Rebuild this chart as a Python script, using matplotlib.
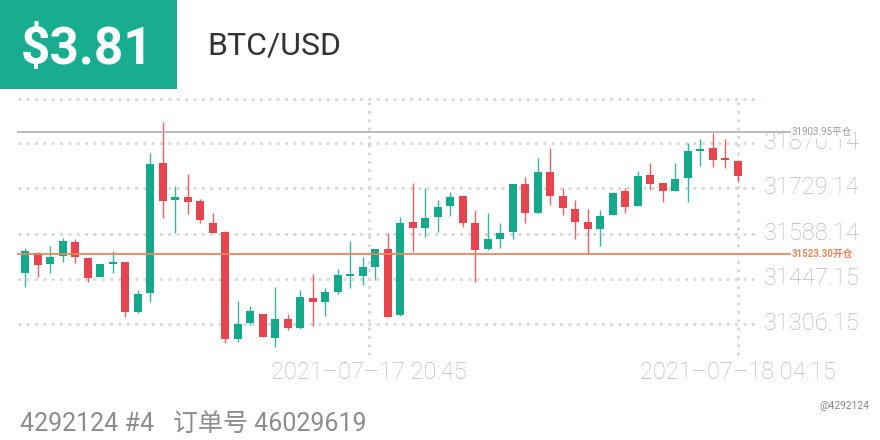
import matplotlib
matplotlib.use("Agg")
import matplotlib.pyplot as plt
from matplotlib.patches import Rectangle
import matplotlib.transforms as mtransforms

# ---------------- data ----------------
opens = [31464, 31527, 31492, 31518, 31563, 31513, 31454, 31493, 31499, 31343,
         31402, 31808, 31693, 31701, 31690, 31622, 31594, 31259, 31308, 31337,
         31264, 31322, 31293, 31388, 31374, 31405, 31457, 31457, 31485, 31539,
         31333, 31625, 31605, 31639, 31675, 31707, 31620, 31539, 31573, 31592,
         31743, 31654, 31782, 31707, 31664, 31625, 31603, 31646, 31722, 31674,
         31771, 31745, 31721, 31761, 31848, 31854, 31823, 31816]
highs = [31544, 31530, 31551, 31576, 31570, 31514, 31493, 31535, 31500, 31412,
         31839, 31938, 31737, 31773, 31695, 31654, 31595, 31379, 31362, 31338,
         31423, 31337, 31412, 31462, 31419, 31477, 31565, 31516, 31540, 31589,
         31641, 31745, 31730, 31693, 31719, 31708, 31662, 31652, 31620, 31744,
         31766, 31825, 31854, 31730, 31693, 31664, 31662, 31719, 31730, 31785,
         31808, 31746, 31808, 31870, 31882, 31901, 31882, 31817]
lows = [31423, 31454, 31464, 31501, 31495, 31438, 31453, 31464, 31329, 31342,
        31376, 31636, 31589, 31649, 31622, 31589, 31248, 31249, 31303, 31266,
        31235, 31289, 31292, 31300, 31331, 31400, 31419, 31428, 31443, 31328,
        31332, 31532, 31579, 31594, 31643, 31610, 31436, 31538, 31544, 31573,
        31620, 31653, 31678, 31646, 31570, 31524, 31550, 31645, 31654, 31673,
        31724, 31688, 31720, 31688, 31799, 31795, 31792, 31748]
closes = [31534, 31491, 31516, 31565, 31516, 31451, 31492, 31499, 31345, 31400,
          31804, 31691, 31701, 31688, 31631, 31591, 31258, 31305, 31347, 31267,
          31322, 31293, 31391, 31376, 31405, 31459, 31462, 31483, 31539, 31329,
          31620, 31605, 31638, 31670, 31703, 31622, 31537, 31573, 31589, 31743,
          31652, 31782, 31706, 31669, 31625, 31603, 31643, 31716, 31670, 31768,
          31743, 31721, 31759, 31847, 31851, 31818, 31818, 31769]

y_ticks = [31306.15, 31447.15, 31588.14, 31729.14, 31870.14]
y_tick_labels = ["31306.15", "31447.15", "31588.14", "31729.14", "31870.14"]
x_tick_pos = [27.5, 57]
x_tick_labels = ["2021–07–17 20:45", "2021–07–18 04:15"]
close_price = 31903.95
close_label = "31903.95平仓"
open_price = 31523.30
open_label = "31523.30开仓"
profit_text = "$3.81"
symbol_text = "BTC/USD"
footer_text = "4292124 #4   订单号 46029619"
watermark_text = "@4292124"

# ---------------- style ----------------
GREEN = "#14a98a"
RED = "#e6454f"
HEADER = "#17ad8e"
GRID = "#d6d6d6"
LABEL = "#b8b8b8"
ORANGE = "#f08455"
FONT = ["Roboto", "Noto Sans CJK SC", "DejaVu Sans"]
plt.rcParams["font.family"] = FONT

W, H = 880, 440
fig = plt.figure(figsize=(8.8, 4.4), dpi=100)
fig.patch.set_facecolor("white")

# axes region in pixels
L, R, T, B = 18, 760, 99, 380
ax = fig.add_axes([L / W, (H - B) / H, (R - L) / W, (B - T) / H])
ax.set_xlim(-0.56, 58.8)
ax.set_ylim(31131.4, 32008.4)
ax.set_facecolor("none")
for s in ax.spines.values():
    s.set_visible(False)

# grid
dot = (0, (1, 2))
for yv in y_ticks:
    ax.axhline(yv, color=GRID, lw=2, ls=dot, zorder=0)
ax.axhline(32008.4, color=GRID, lw=2, ls=dot, zorder=0, clip_on=False)
for xv in x_tick_pos:
    ax.axvline(xv, color=GRID, lw=2, ls=dot, zorder=0)

# y tick labels (right)
ax.yaxis.tick_right()
ax.set_yticks(y_ticks)
ax.set_yticklabels(y_tick_labels)
ax.tick_params(axis="y", length=0, pad=2.5, labelsize=17, labelcolor=LABEL)
offset = mtransforms.ScaledTranslation(0, 3 / 100, fig.dpi_scale_trans)
for lab in ax.get_yticklabels():
    lab.set_fontweight("light")
    lab.set_transform(lab.get_transform() + offset)
ax.set_xticks([])

# x labels
trans = mtransforms.blended_transform_factory(ax.transData, fig.transFigure)
for xv, txt in zip(x_tick_pos, x_tick_labels):
    ax.text(xv, 1 - 372 / H, txt, transform=trans, ha="center", va="center",
            fontsize=17, color=LABEL, fontweight="light", zorder=5,
            bbox=dict(facecolor="white", edgecolor="none", pad=0))

# candles
for i, (o, h, l, c) in enumerate(zip(opens, highs, lows, closes)):
    col = GREEN if c >= o else RED
    ax.vlines(i, l, h, color=col, lw=1, alpha=0.85, zorder=2)
    lo = min(o, c)
    ht = max(abs(c - o), 5)
    ax.bar(i, ht, bottom=lo - (ht - abs(c - o)) / 2, width=0.64, color=col,
           zorder=3, linewidth=0)

# position lines
xr = (790 - L) / (R - L)
bl = mtransforms.blended_transform_factory(ax.transAxes, ax.transData)
ax.plot([0, xr], [close_price, close_price], transform=bl,
        color="#b4b4b4", lw=1.3, clip_on=False, zorder=4)
ax.plot([0, xr], [open_price, open_price], transform=bl,
        color=ORANGE, lw=1.3, clip_on=False, zorder=4)
tx = mtransforms.blended_transform_factory(fig.transFigure, ax.transData)
ax.text(792 / W, close_price, close_label, transform=tx, ha="left", va="center",
        fontsize=7, color="#9a9a9a", zorder=6,
        bbox=dict(facecolor="white", edgecolor="none", pad=0.8))
ax.text(792 / W, open_price, open_label, transform=tx, ha="left", va="center",
        fontsize=7, color=ORANGE, fontweight="bold", zorder=6,
        bbox=dict(facecolor="white", edgecolor="none", pad=0.8))

# header
fig.patches.append(Rectangle((0, 1 - 89 / H), 177 / W, 89 / H, transform=fig.transFigure,
                             facecolor=HEADER, edgecolor="none", zorder=0))
fig.text(87 / W, 1 - 50 / H, profit_text, ha="center", va="center", fontsize=37,
         fontweight="bold", color="white")
fig.text(207 / W, 1 - 46 / H, symbol_text, ha="left", va="center", fontsize=23,
         color="#333333")

# footer
fig.text(20 / W, 1 - 424 / H, footer_text, ha="left", va="center", fontsize=18,
         color="#8c8c8c")
fig.text(869 / W, 1 - 406 / H, watermark_text, ha="right", va="center", fontsize=7.5,
         color="#888888", zorder=10)

fig.savefig("out.png", dpi=100, facecolor="white")
